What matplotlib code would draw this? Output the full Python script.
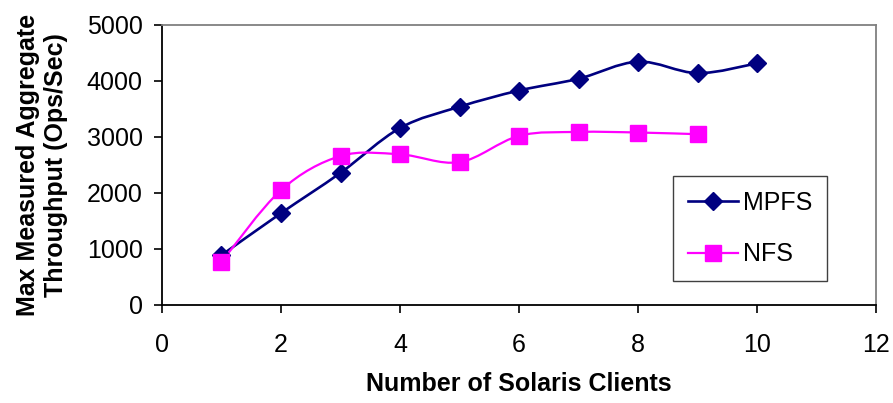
import matplotlib
matplotlib.use("Agg")
import matplotlib.pyplot as plt
import numpy as np
from matplotlib.path import Path
from matplotlib.patches import PathPatch
from matplotlib.lines import Line2D

plt.rcParams['font.family'] = ['Liberation Sans', 'DejaVu Sans']

# data
clients_mpfs = [1, 2, 3, 4, 5, 6, 7, 8, 9, 10]
mpfs = [890, 1640, 2360, 3160, 3540, 3830, 4040, 4345, 4140, 4315]
clients_nfs = [1, 2, 3, 4, 5, 6, 7, 8, 9]
nfs = [770, 2050, 2660, 2690, 2550, 3020, 3090, 3080, 3050]

NAVY = '#000080'
MAGENTA = '#FF00FF'


def smooth_path(x, y):
    # Excel-style smoothed line: cubic bezier through the points
    pts = np.column_stack([x, y]).astype(float)
    n = len(pts)
    verts = [pts[0]]
    codes = [Path.MOVETO]
    for i in range(n - 1):
        p0 = pts[i - 1] if i > 0 else pts[i]
        p1 = pts[i]
        p2 = pts[i + 1]
        p3 = pts[i + 2] if i + 2 < n else pts[i + 1]
        c1 = p1 + (p2 - p0) / 6.0
        c2 = p2 - (p3 - p1) / 6.0
        verts += [c1, c2, p2]
        codes += [Path.CURVE4] * 3
    return Path(verts, codes)


fig = plt.figure(figsize=(8.93, 4.03), dpi=100)
ax = fig.add_axes([0.1814, 0.2432, 0.7996, 0.6948])

ax.add_patch(PathPatch(smooth_path(clients_mpfs, mpfs), fill=False,
                       edgecolor=NAVY, lw=1.9, zorder=2))
ax.add_patch(PathPatch(smooth_path(clients_nfs, nfs), fill=False,
                       edgecolor=MAGENTA, lw=1.6, zorder=2))
ax.plot(clients_mpfs, mpfs, linestyle='none', marker='D', ms=9,
        color=NAVY, zorder=3)
ax.plot(clients_nfs, nfs, linestyle='none', marker='s', ms=11,
        color=MAGENTA, zorder=3)

ax.set_xlim(0, 12)
ax.set_ylim(0, 5000)
ax.set_xticks(range(0, 13, 2))
ax.set_yticks(range(0, 5001, 1000))
ax.tick_params(axis='both', direction='out', length=6, width=1.2,
               labelsize=18, colors='black')
ax.tick_params(axis='x', pad=14)
ax.tick_params(axis='y', pad=8)

for s in ['left', 'bottom']:
    ax.spines[s].set_color('black')
    ax.spines[s].set_linewidth(1.3)
for s in ['top', 'right']:
    ax.spines[s].set_color('#808080')
    ax.spines[s].set_linewidth(1.3)

ax.set_xlabel('Number of Solaris Clients', fontsize=18, fontweight='bold',
              labelpad=11)
ax.set_ylabel('Max Measured Aggregate\nThroughput (Ops/Sec)', fontsize=18,
              fontweight='bold', labelpad=13, linespacing=1.25)

handles = [
    Line2D([], [], color=NAVY, lw=1.9, marker='D', ms=9),
    Line2D([], [], color=MAGENTA, lw=1.6, marker='s', ms=11),
]
leg = ax.legend(handles, ['MPFS', 'NFS'], loc='upper left',
                bbox_to_anchor=(0.7157, 0.461), fontsize=18, frameon=True,
                fancybox=False, edgecolor='#404040', framealpha=1,
                handlelength=2.0, labelspacing=1.1, borderpad=0.6,
                handletextpad=0.2, borderaxespad=0)
leg.get_frame().set_linewidth(1.0)

fig.savefig('out.png', dpi=100)
